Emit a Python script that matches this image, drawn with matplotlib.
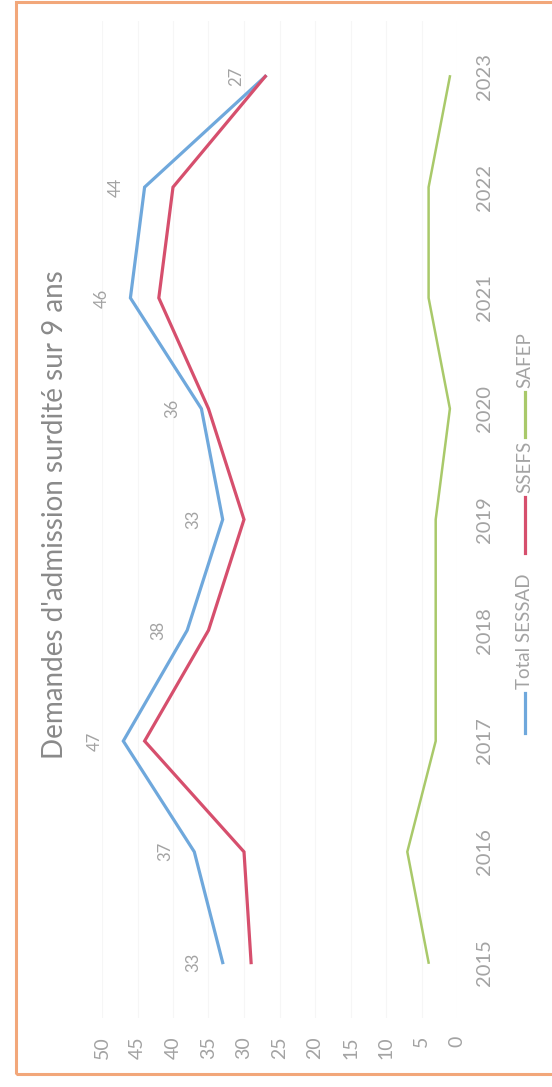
import numpy as np
import matplotlib
matplotlib.use("Agg")
import matplotlib.pyplot as plt
from matplotlib.patches import Rectangle
from matplotlib.lines import Line2D

plt.rcParams["font.family"] = ["Lato", "DejaVu Sans"]

# -- Data ----------------------------------------------------------------------
years = ["2015", "2016", "2017", "2018", "2019", "2020", "2021", "2022", "2023"]
total_sessad = [33, 37, 47, 38, 33, 36, 46, 44, 27]
ssefs = [29, 30, 44, 35, 30, 35, 42, 40, 27]
safep = [4, 7, 3, 3, 3, 1, 4, 4, 1]
value_ticks = [0, 5, 10, 15, 20, 25, 30, 35, 40, 45, 50]

c_blue = "#6fa8dc"
c_red = "#d64f6d"
c_green = "#a9c96a"
c_text = "#a3a3a3"

W, H = 552, 1087
fig = plt.figure(figsize=(W / 100, H / 100), dpi=100)
fig.patch.set_facecolor("white")

# outer orange frame (right side runs off the page)
fig.add_artist(Rectangle((16 / W, 1 - 1074 / H), (W + 10 - 16) / W, (1074 - 2) / H,
                         transform=fig.transFigure, fill=False,
                         edgecolor="#f2a77a", linewidth=2.2))

# chart is drawn rotated: values run right->left, years bottom->top
x0, x1 = 102, 457
y_top, y_bot = 21, 1018
ax = fig.add_axes([x0 / W, 1 - y_bot / H, (x1 - x0) / W, (y_bot - y_top) / H])
ax.set_facecolor("none")
yi = np.arange(len(years))

ax.plot(total_sessad, yi, color=c_blue, linewidth=2.3, solid_joinstyle="miter")
ax.plot(ssefs, yi, color=c_red, linewidth=2.3, solid_joinstyle="miter")
ax.plot(safep, yi, color=c_green, linewidth=1.8, solid_joinstyle="miter")

for v, y in zip(total_sessad, yi):
    ax.annotate(str(v), xy=(v, y), xytext=(-29, 0), textcoords="offset pixels",
                rotation=90, ha="center", va="center", fontsize=12, color=c_text)

ax.set_xlim(50, 0)
ax.set_ylim(-0.5, len(years) - 0.5)
ax.set_xticks(value_ticks)
ax.set_xticklabels([str(t) for t in value_ticks], rotation=90, fontsize=14, color=c_text)
ax.yaxis.tick_right()
ax.set_yticks(yi)
ax.set_yticklabels(years, rotation=90, va="center", fontsize=14.5, color=c_text)
ax.tick_params(axis="x", length=0, pad=13)
ax.tick_params(axis="y", length=0, pad=14)
ax.grid(axis="x", color="#f6f6f6", linewidth=0.8)
ax.set_axisbelow(True)
for s in ax.spines.values():
    s.set_visible(False)

# title on the left side
fig.text(55 / W, 1 - 515 / H, "Demandes d'admission surdité sur 9 ans",
         rotation=90, ha="center", va="center", fontsize=20, color="#8a8a8a")

# legend, drawn by hand
lx = 525
entries = [(c_blue, 733, 693, "Total SESSAD", 689),
           (c_red, 553, 497, "SSEFS", 493),
           (c_green, 437, 392, "SAFEP", 388)]
for col, ya, yb, label, yt in entries:
    fig.add_artist(Line2D([lx / W, lx / W], [1 - ya / H, 1 - yb / H],
                          transform=fig.transFigure, color=col, linewidth=2.3))
    fig.text(lx / W, 1 - yt / H, label, rotation=90, ha="center", va="bottom",
             fontsize=13.5, color=c_text)

fig.savefig("out.png", dpi=100, facecolor="white")
